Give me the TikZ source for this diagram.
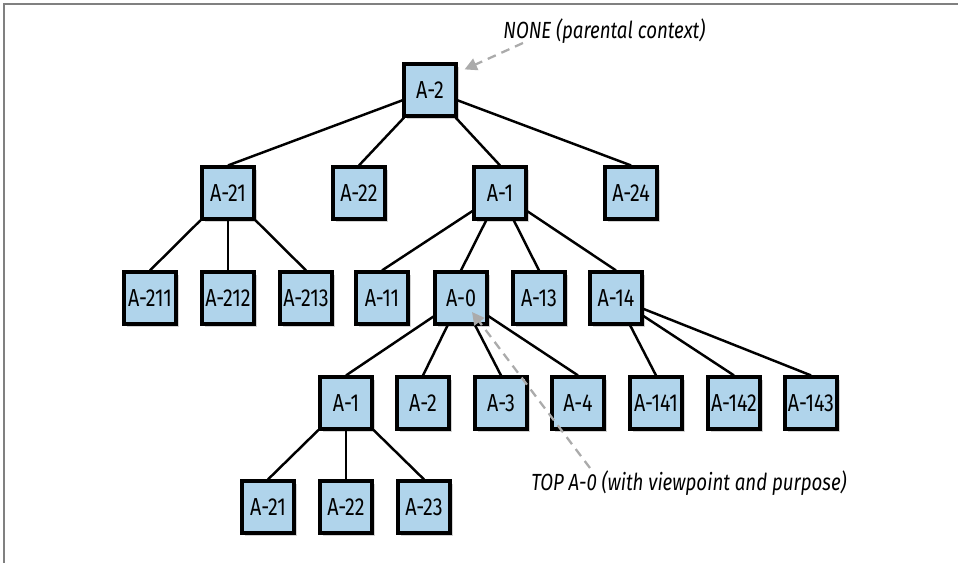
\documentclass[tikz,border=0pt]{standalone}
\usepackage{fontspec}
\setmainfont{Fira Sans}[FakeStretch=0.8]
\usetikzlibrary{shadows, arrows.meta}
\definecolor{boxblue}{HTML}{B0D4EB}
\definecolor{pointgray}{HTML}{ABABAB}

\begin{document}
\begin{tikzpicture}[x=0.02cm, y=-0.02cm, font=\fontsize{14}{16}\selectfont,
  box/.style={draw, line width=1.8pt, fill=boxblue, minimum size=1.04cm, inner sep=0pt,
    drop shadow={shadow xshift=1.8pt, shadow yshift=-1.8pt, opacity=0.35}},
  edge/.style={line width=1.4pt},
  note/.style={font=\fontsize{13.3}{15}\selectfont\itshape, anchor=west, inner sep=0pt},
  pointer/.style={pointgray, line width=1.3pt, dash pattern=on 5pt off 3.5pt,
    -{Triangle[length=7pt, width=7pt]}}]
  \useasboundingbox (0,0) rectangle (958,563);
  % frame
  \draw[gray, line width=0.8pt] (4,563) -- (4,4) -- (958,4);
  % level 0
  \node[box] (a2) at (430,90) {A-2};
  % level 1
  \node[box] (a21) at (228,193) {A-21};
  \node[box] (a22) at (359,193) {A-22};
  \node[box] (a1) at (500,193) {A-1};
  \node[box] (a24) at (631,193) {A-24};
  % level 2
  \node[box] (a211) at (150,298) {A-211};
  \node[box] (a212) at (228,298) {A-212};
  \node[box] (a213) at (306,298) {A-213};
  \node[box] (a11) at (382,298) {A-11};
  \node[box] (a0) at (461,298) {A-0};
  \node[box] (a13) at (539,298) {A-13};
  \node[box] (a14) at (616,298) {A-14};
  % level 3
  \node[box] (b1) at (346,403) {A-1};
  \node[box] (b2) at (423,403) {A-2};
  \node[box] (b3) at (501,403) {A-3};
  \node[box] (b4) at (578,403) {A-4};
  \node[box] (a141) at (656,403) {A-141};
  \node[box] (a142) at (734,403) {A-142};
  \node[box] (a143) at (811,403) {A-143};
  % level 4
  \node[box] (c21) at (268,507) {A-21};
  \node[box] (c22) at (346,507) {A-22};
  \node[box] (c23) at (424,507) {A-23};
  % tree edges
  \foreach \p/\c in {a2/a21, a2/a22, a2/a1, a2/a24,
                     a21/a211, a21/a212, a21/a213,
                     a1/a11, a1/a0, a1/a13, a1/a14,
                     a0/b1, a0/b2, a0/b3, a0/b4,
                     a14/a141, a14/a142, a14/a143,
                     b1/c21, b1/c22, b1/c23}
    \draw[edge] (\p) -- (\c.north);
  % notes
  \node[note] (nonelbl) at (503,31) {NONE (parental context)};
  \node[note] (toplbl) at (531,483) {TOP A-0 (with viewpoint and purpose)};
  \coordinate (nonetail) at (523,43);
  \coordinate (toptail) at (590,468);
  \draw[pointer] (nonetail) -- ([shift={(7,7)}]a2.north east);
  \draw[pointer] (toptail) -- ([shift={(11,14)}]a0.center);
\end{tikzpicture}
\end{document}
